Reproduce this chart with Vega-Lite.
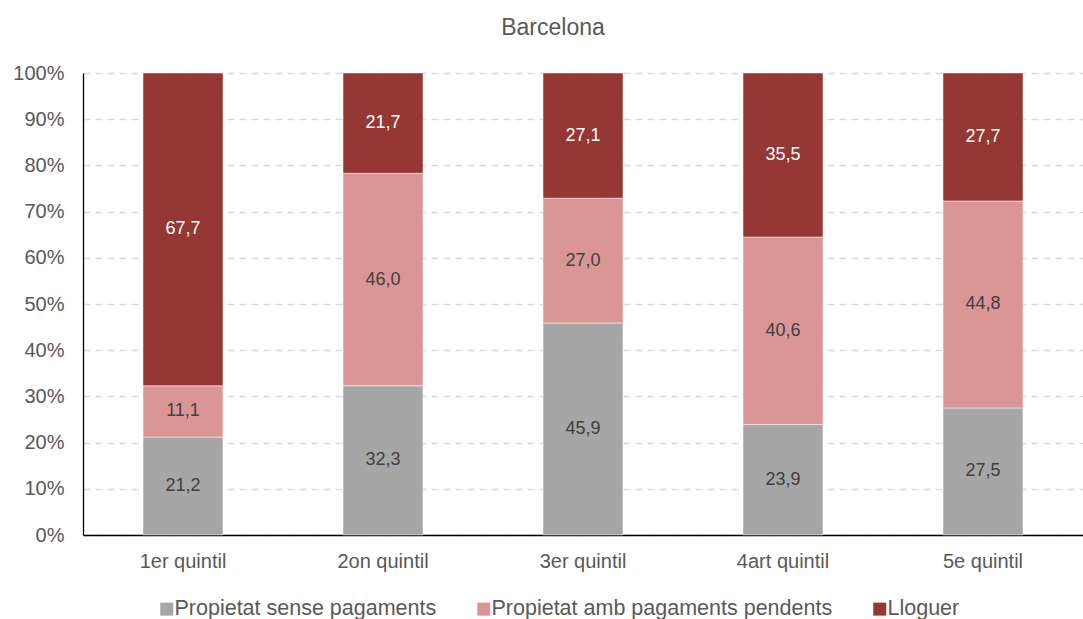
{
  "$schema": "https://vega.github.io/schema/vega-lite/v6.json",
  "autosize": {"type": "none"},
  "width": 1000,
  "height": 462,
  "padding": {"left": 83, "top": 73, "right": 0, "bottom": 84},
  "background": "white",
  "title": {"text": "Barcelona", "fontSize": 23, "font": "Liberation Sans", "fontWeight": "normal", "color": "#595959", "anchor": "middle", "dx": -30, "offset": 23},
  "config": {"view": {"stroke": null}, "font": "Liberation Sans"},
  "data": {
    "values": [
      {"quintil": "1er quintil", "tipus": "Propietat sense pagaments", "ord": 1, "value": 21.2},
      {"quintil": "1er quintil", "tipus": "Propietat amb pagaments pendents", "ord": 2, "value": 11.1},
      {"quintil": "1er quintil", "tipus": "Lloguer", "ord": 3, "value": 67.7},
      {"quintil": "2on quintil", "tipus": "Propietat sense pagaments", "ord": 1, "value": 32.3},
      {"quintil": "2on quintil", "tipus": "Propietat amb pagaments pendents", "ord": 2, "value": 46.0},
      {"quintil": "2on quintil", "tipus": "Lloguer", "ord": 3, "value": 21.7},
      {"quintil": "3er quintil", "tipus": "Propietat sense pagaments", "ord": 1, "value": 45.9},
      {"quintil": "3er quintil", "tipus": "Propietat amb pagaments pendents", "ord": 2, "value": 27.0},
      {"quintil": "3er quintil", "tipus": "Lloguer", "ord": 3, "value": 27.1},
      {"quintil": "4art quintil", "tipus": "Propietat sense pagaments", "ord": 1, "value": 23.9},
      {"quintil": "4art quintil", "tipus": "Propietat amb pagaments pendents", "ord": 2, "value": 40.6},
      {"quintil": "4art quintil", "tipus": "Lloguer", "ord": 3, "value": 35.5},
      {"quintil": "5e quintil", "tipus": "Propietat sense pagaments", "ord": 1, "value": 27.5},
      {"quintil": "5e quintil", "tipus": "Propietat amb pagaments pendents", "ord": 2, "value": 44.8},
      {"quintil": "5e quintil", "tipus": "Lloguer", "ord": 3, "value": 27.7}
    ]
  },
  "transform": [
    {"stack": "value", "groupby": ["quintil"], "sort": [{"field": "ord", "order": "ascending"}], "as": ["y0", "y1"]},
    {"calculate": "(datum.y0 + datum.y1) / 2", "as": "mid"},
    {"calculate": "replace(format(datum.value, '.1f'), '.', ',')", "as": "label"}
  ],
  "encoding": {
    "x": {
      "field": "quintil", "type": "nominal",
      "sort": ["1er quintil", "2on quintil", "3er quintil", "4art quintil", "5e quintil"],
      "scale": {"paddingInner": 0.6, "paddingOuter": 0.3},
      "axis": {"title": null, "labelAngle": 0, "ticks": false, "tickSize": 0, "labelPadding": 16, "labelFontSize": 20, "labelColor": "#595959", "domainColor": "#000000", "domainWidth": 1.3, "grid": false}
    }
  },
  "layer": [
    {
      "mark": {"type": "bar", "stroke": "white", "strokeWidth": 0.5},
      "encoding": {
        "y": {
          "field": "y0", "type": "quantitative",
          "scale": {"domain": [0, 100], "nice": false},
          "axis": {"title": null, "values": [0, 10, 20, 30, 40, 50, 60, 70, 80, 90, 100], "labelExpr": "datum.value + '%'", "ticks": false, "tickSize": 0, "labelPadding": 19, "labelFontSize": 20, "labelColor": "#595959", "domainColor": "#000000", "domainWidth": 1.3, "grid": true, "gridColor": "#D9D9D9", "gridDash": [7, 5], "gridWidth": 1.3}
        },
        "y2": {"field": "y1"},
        "color": {
          "field": "tipus", "type": "nominal",
          "scale": {"domain": ["Propietat sense pagaments", "Propietat amb pagaments pendents", "Lloguer"], "range": ["#A6A6A6", "#D99694", "#953735"]},
          "legend": {"title": null, "orient": "none", "legendX": 73, "legendY": 525, "direction": "horizontal", "symbolType": "square", "symbolSize": 169, "symbolStrokeWidth": 0, "labelFontSize": 21.5, "labelColor": "#595959", "columnPadding": 36, "labelOffset": -3, "labelLimit": 500}
        },
        "order": {"field": "ord", "type": "quantitative"}
      }
    },
    {
      "mark": {"type": "text", "fontSize": 18, "baseline": "middle", "align": "center"},
      "encoding": {
        "y": {"field": "mid", "type": "quantitative"},
        "text": {"field": "label", "type": "nominal"},
        "color": {"condition": {"test": "datum.tipus === 'Lloguer'", "value": "#FFFFFF"}, "value": "#404040"}
      }
    }
  ]
}
